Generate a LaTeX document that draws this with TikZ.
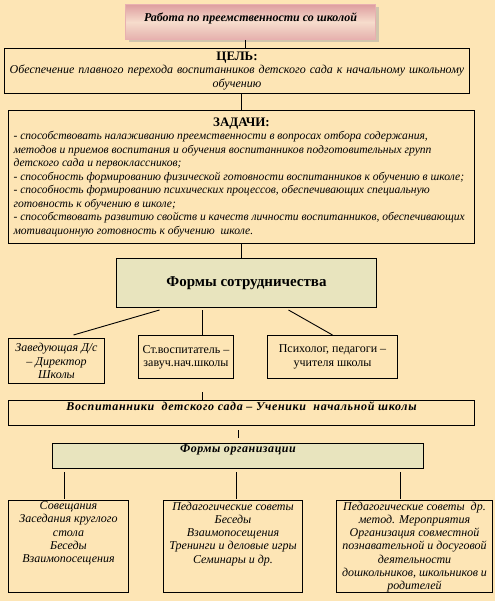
\documentclass[tikz,border=0pt]{standalone}
\usepackage{fontspec}
\setmainfont{Liberation Serif}
\usetikzlibrary{positioning, calc, shadows}

\definecolor{pagebg}{RGB}{253,229,181}
\definecolor{rosedark}{RGB}{222,158,160}
\definecolor{roselight}{RGB}{246,220,204}
\definecolor{roseline}{RGB}{232,176,176}
\definecolor{olivefill}{RGB}{232,228,190}

\begin{document}
\begin{tikzpicture}[
    x=1pt, y=-1pt,
    font=\fontsize{12}{13.3}\selectfont,
    % rectangles placed by their top left corner
    box/.style={draw, line width=1pt, inner sep=0pt, anchor=north west, align=center},
    toptext/.style={anchor=north, align=center, inner sep=1.5pt, font=\fontsize{12}{13.3}\selectfont\itshape},
    link/.style={line width=0.9pt}
]
    % --- background ---
    \fill[pagebg] (0,0) rectangle (495,601);
    \useasboundingbox (0,0) rectangle (495,601);

    % --- title, goal and tasks ---
    \node[box, draw=roseline, top color=rosedark, bottom color=rosedark!70!roselight, middle color=roselight,
          drop shadow={shadow xshift=3pt, shadow yshift=-3pt, fill=black!35},
          minimum width=250pt, minimum height=35pt,
          label={[toptext, font=\fontsize{12}{13.3}\selectfont\bfseries\itshape, yshift=-7pt]north:Работа по преемственности со школой}]
        (title) at (125,4) {};

    \node[box, minimum width=465pt, minimum height=45pt, text width=458pt]
        (goal) at (4,48)
        {{\fontsize{13}{13}\selectfont\bfseries ЦЕЛЬ:}\\
         \itshape Обеспечение плавного перехода воспитанников детского сада к начальному школьному\\
         \itshape обучению};

    \node[box, minimum width=466pt, minimum height=133pt, text width=456pt, align=none]
        (tasks) at (8,110)
        {{\centering\fontsize{13}{13}\selectfont\bfseries ЗАДАЧИ:\par}
         \fontsize{11.6}{13.5}\selectfont\raggedright\itshape
         - способствовать налаживанию преемственности в вопросах отбора содержания,\\
         методов и приемов воспитания и обучения воспитанников подготовительных групп\\
         детского сада и первоклассников;\\
         - способность формированию физической готовности воспитанников к обучению в школе;\\
         - способность формированию психических процессов, обеспечивающих специальную\\
         готовность к обучению в школе;\\
         - способствовать развитию свойств и качеств личности воспитанников, обеспечивающих\\
         мотивационную готовность к обучению~ школе.\par\vspace{17pt}};

    % --- cooperation ---
    \node[box, fill=olivefill, minimum width=260pt, minimum height=49pt,
          font=\fontsize{15}{17}\selectfont\bfseries]
        (coop) at (116,258) {Формы сотрудничества};

    \node[box, minimum width=96pt, minimum height=45pt,
          font=\fontsize{12}{13.3}\selectfont\itshape]
        (head) at (8,338) {Заведующая Д/с\\– Директор\\Школы};
    \node[box, minimum width=95pt, minimum height=43pt]
        (deputy) at (138,335) {Ст.воспитатель –\\завуч.нач.школы};
    \node[box, minimum width=130pt, minimum height=43pt]
        (psych) at (267,335) {Психолог, педагоги –\\учителя школы};

    \draw[link] ([xshift=-5pt]title.south) -- ([xshift=-5pt]title.south |- goal.north);
    \draw[link] (tasks.north |- goal.south) -- (tasks.north);
    \draw[link] (tasks.south) -- (tasks.south |- coop.north);
    \draw[link] ([xshift=-87pt,yshift=-2pt]coop.south) -- ([xshift=17pt,yshift=3pt]head.north);
    \draw[link] ([xshift=-44pt,yshift=-2pt]coop.south) -- ([xshift=-44pt]coop.south |- deputy.north);
    \draw[link] ([xshift=42pt,yshift=-2pt]coop.south) -- (psych.north);

    % --- pupils and forms of organisation ---
    \node[box, minimum width=466pt, minimum height=25pt,
          label={[toptext, font=\fontsize{12}{13.3}\selectfont\bfseries\itshape\addfontfeature{LetterSpace=5.5}]north:Воспитанники~ детского сада – Ученики~ начальной школы}]
        (pupils) at (8,400) {};
    \node[box, fill=olivefill, minimum width=371pt, minimum height=25pt,
          label={[toptext, font=\fontsize{12}{13.3}\selectfont\bfseries\itshape\addfontfeature{LetterSpace=4.5}]north:Формы организации}]
        (orgforms) at (52,443) {};

    \draw[link] ([xshift=-39pt]pupils.north) -- ([xshift=-39pt,yshift=8pt]pupils.north);
    \draw[link] ([yshift=5pt]orgforms.north) -- ([yshift=13pt]orgforms.north);

    \node[box, minimum width=120pt, minimum height=92pt,
          label={[toptext]north:{Совещания\\Заседания круглого\\стола\\Беседы\\Взаимопосещения}}]
        (meet) at (8,500) {};
    \node[box, minimum width=139pt, minimum height=92pt,
          label={[toptext]north:{Педагогические советы\\Беседы\\Взаимопосещения\\Тренинги и деловые игры\\Семинары и др.}}]
        (council) at (163,500) {};
    \node[box, minimum width=156pt, minimum height=92pt,
          label={[toptext]north:{Педагогические советы~ др.\\метод. Мероприятия\\Организация совместной\\познавательной и досуговой\\деятельности\\дошкольников, школьников и\\родителей}}]
        (events) at (336,500) {};

    \foreach \b/\dx in {meet/-4, council/3.5, events/-14}
        \draw[link] ([xshift=\dx pt, yshift=1pt]\b.north) -- ++(0,-27);
\end{tikzpicture}
\end{document}
